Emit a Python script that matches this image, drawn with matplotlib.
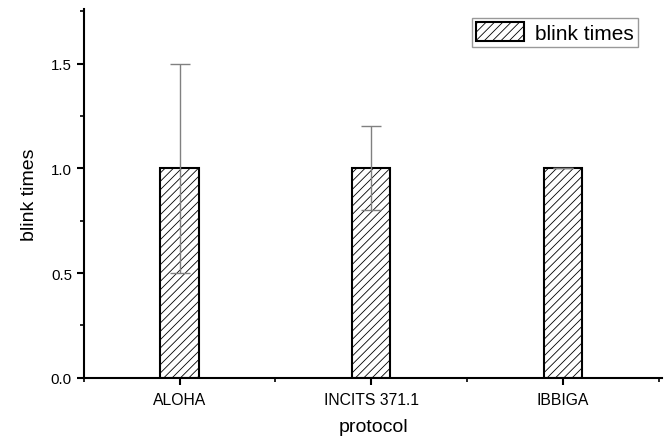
import matplotlib
matplotlib.use("Agg")
import matplotlib.pyplot as plt
from matplotlib.ticker import MultipleLocator
import numpy as np

plt.rcParams['font.family'] = ['Liberation Sans', 'DejaVu Sans']
plt.rcParams['hatch.linewidth'] = 0.6
plt.rcParams['hatch.color'] = '#333333'

# chart data
protocols = ['ALOHA', 'INCITS 371.1', 'IBBIGA']
blink_times = [1.0, 1.0, 1.0]
blink_err = [0.5, 0.2, 0.0]

fig = plt.figure(figsize=(6.65, 4.39), dpi=100)
ax = fig.add_axes([0.126, 0.137, 0.870, 0.840])

x = np.arange(1, len(protocols) + 1)
ax.bar(x, blink_times, 0.2, color='white', edgecolor='black', linewidth=1.5,
       hatch='////', label='blink times', zorder=2)
ax.errorbar(x, blink_times, yerr=blink_err, fmt='none', ecolor='#808080',
            elinewidth=1, capsize=7, capthick=1, zorder=3)

ax.set_xlim(0.5, 3.52)
ax.set_ylim(0, 1.76)
ax.set_xticks(x)
ax.set_xticklabels(protocols, fontsize=11.3)
ax.xaxis.set_minor_locator(MultipleLocator(1.0, offset=0.5))
ax.yaxis.set_major_locator(MultipleLocator(0.5))
ax.yaxis.set_minor_locator(MultipleLocator(0.25))
ax.yaxis.set_major_formatter(matplotlib.ticker.FormatStrFormatter('%.1f'))
ax.tick_params(axis='y', labelsize=10.8)
ax.tick_params(axis='x', pad=5)
ax.tick_params(which='major', length=5, width=1.5, direction='out')
ax.tick_params(which='minor', length=3, width=1.2, direction='out')

for side in ['top', 'right']:
    ax.spines[side].set_visible(False)
for side in ['left', 'bottom']:
    ax.spines[side].set_linewidth(1.5)

ax.set_xlabel('protocol', fontsize=14, labelpad=8)
ax.set_ylabel('blink times', fontsize=14, labelpad=9)

leg = ax.legend(loc='upper right', fontsize=15, fancybox=False, framealpha=1,
                edgecolor='#999999', borderpad=0.2, handlelength=2.3,
                handleheight=1.0, handletextpad=0.55, borderaxespad=0,
                bbox_to_anchor=(0.958, 0.976))
leg.get_frame().set_linewidth(1)

fig.savefig('out.png', dpi=100)
